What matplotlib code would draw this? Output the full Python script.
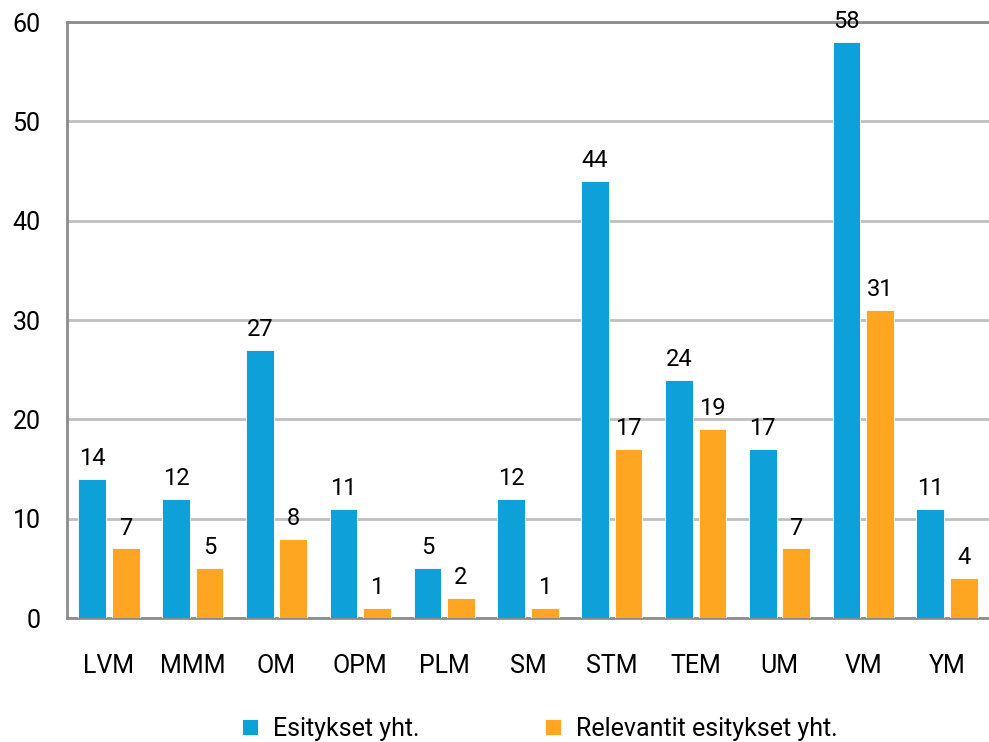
import numpy as np
import matplotlib
matplotlib.use("Agg")
import matplotlib.pyplot as plt

# data to plot
ministeries = ['LVM', 'MMM', 'OM', 'OPM', 'PLM', 'SM', 'STM', 'TEM', 'UM', 'VM', 'YM']
esitykset = [14, 12, 27, 11, 5, 12, 44, 24, 17, 58, 11]
relevantit = [7, 5, 8, 1, 2, 1, 17, 19, 7, 31, 4]
series_names = ['Esitykset yht.', 'Relevantit esitykset yht.']

plt.rcParams['font.family'] = ['Roboto', 'DejaVu Sans']

blue = '#0ea1d9'
orange = '#fea521'

fig = plt.figure(figsize=(9.89, 7.42), dpi=100)
ax = fig.add_axes([67 / 989, 1 - 618 / 742, 1 - 67 / 989, (618 - 22) / 742])

index = np.arange(len(ministeries))
bar_width = 0.33
offset = 0.2

rects1 = ax.bar(index - offset, esitykset, bar_width, color=blue,
                edgecolor='white', linewidth=0.6, label=series_names[0], zorder=3)
rects2 = ax.bar(index + offset, relevantit, bar_width, color=orange,
                edgecolor='white', linewidth=0.6, label=series_names[1], zorder=3)

# value labels above the bars
for rects, vals in ((rects1, esitykset), (rects2, relevantit)):
    for r, v in zip(rects, vals):
        ax.text(r.get_x() + r.get_width() / 2, v + 0.9, str(v),
                ha='center', va='bottom', fontsize=17, color='black')

ax.set_xlim(-0.5, len(ministeries) - 0.5)
ax.set_ylim(0, 60)
ax.set_yticks(range(0, 61, 10))
ax.set_xticks(index)
ax.set_xticklabels(ministeries)
ax.tick_params(axis='both', length=0, labelsize=18)
ax.tick_params(axis='x', pad=26)
ax.tick_params(axis='y', pad=19)

ax.yaxis.grid(True, color='#bfbfbf', linewidth=2, zorder=0)
ax.spines['right'].set_visible(False)
for s in ('left', 'bottom', 'top'):
    ax.spines[s].set_color('#8c8c8c')
    ax.spines[s].set_linewidth(2)

fig.legend(handles=[rects1, rects2], labels=series_names, loc='center',
           bbox_to_anchor=(0.546, 0.018), ncol=2, frameon=False, fontsize=18,
           handlelength=0.65, handleheight=0.65, handletextpad=0.6, columnspacing=5.0,
           borderpad=0, borderaxespad=0)

fig.savefig('out.png', dpi=100)
